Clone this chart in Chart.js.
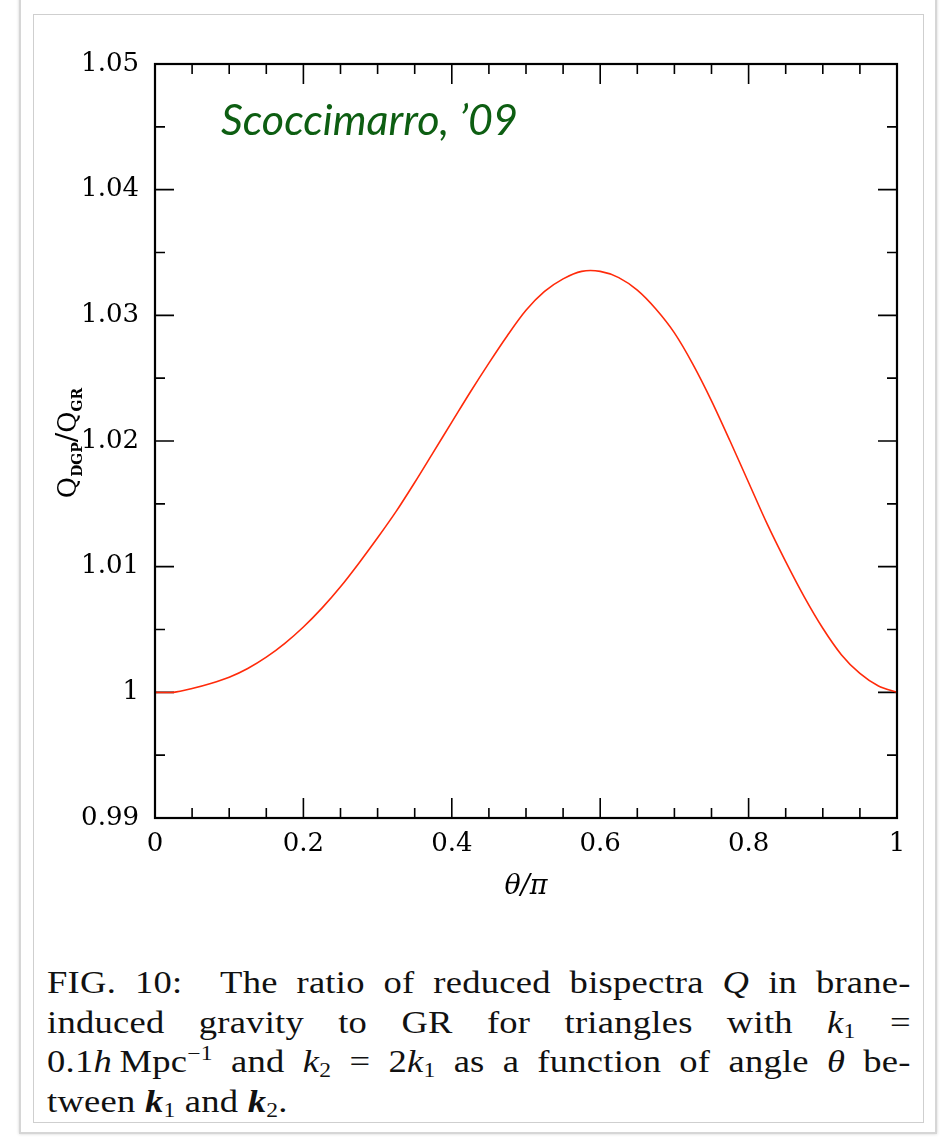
<!DOCTYPE html>
<html>
<head>
<meta charset="utf-8">
<script src="https://cdn.jsdelivr.net/npm/chart.js@4/dist/chart.umd.min.js"></script>
<style>
  html, body { margin: 0; padding: 0; background: #fff; }
  body { width: 946px; height: 1137px; position: relative; overflow: hidden; }
  .outer {
    position: absolute; left: 19px; top: -10px; width: 914px; height: 1140px;
    border: 2px solid #d6d6d6; box-shadow: 0 0 3px rgba(0,0,0,0.18);
  }
  .card {
    position: absolute; left: 33px; top: 14px; width: 889px; height: 1107px;
    border: 1px solid #cfcfcf; background: #fff;
  }
  #chartBox { position: absolute; left: 0; top: 0; width: 946px; height: 930px; }
  .stamp {
    position: absolute; left: 221px; top: 93px;
    font-family: Lato, "Open Sans", sans-serif; font-style: italic;
    font-size: 43px; color: #0d5e12; white-space: nowrap;
  }
  .caption {
    position: absolute; left: 47px; top: 963px; width: 732px;
    transform: scaleX(1.18); transform-origin: 0 0;
    font-family: "Liberation Serif", "DejaVu Serif", serif;
    font-size: 31px; line-height: 39.5px; color: #111; letter-spacing: 0.2px;
  }
  .caption .ln { text-align: justify; text-align-last: justify; white-space: nowrap; }
  .caption .last { text-align: left; text-align-last: left; }
  .caption i { font-style: italic; }
  .caption sub { font-size: 20px; vertical-align: -5px; line-height: 0; }
  .caption sup { font-size: 20px; vertical-align: 12px; line-height: 0; }
</style>
</head>
<body>
<div class="outer"></div>
<div class="card"></div>
<div id="chartBox"><canvas id="ratioChart"></canvas></div>
<div class="stamp">Scoccimarro, ’09</div>
<div class="caption">
  <div class="ln">FIG. 10: &nbsp;The ratio of reduced bispectra <i>Q</i> in brane-</div>
  <div class="ln">induced gravity to GR for triangles with <i>k</i><sub>1</sub> =</div>
  <div class="ln">0.1<i>h</i>&#8201;Mpc<sup>−1</sup> and <i>k</i><sub>2</sub> = 2<i>k</i><sub>1</sub> as a function of angle <i>θ</i> be-</div>
  <div class="ln last">tween <b><i>k</i></b><sub>1</sub> and <b><i>k</i></b><sub>2</sub>.</div>
</div>
<script>
// theta / pi and Q_DGP / Q_GR
const thetaVals = [0, 0.025, 0.05, 0.075, 0.1, 0.125, 0.15, 0.175, 0.2, 0.225,
                   0.25, 0.275, 0.3, 0.325, 0.35, 0.375, 0.4, 0.425, 0.45, 0.475,
                   0.5, 0.525, 0.55, 0.575, 0.6, 0.625, 0.65, 0.675, 0.7, 0.725,
                   0.75, 0.775, 0.8, 0.825, 0.85, 0.875, 0.9, 0.925, 0.95, 0.975, 1];
const ratioVals = [1.0000, 1.0000, 1.0003, 1.0007, 1.0012, 1.0019, 1.0028, 1.0039, 1.0052, 1.0067,
                   1.0084, 1.0103, 1.0123, 1.0144, 1.0167, 1.0191, 1.0215, 1.0239, 1.0262, 1.0284,
                   1.0304, 1.0319, 1.0329, 1.0335, 1.0335, 1.0330, 1.0320, 1.0305, 1.0286, 1.0261,
                   1.0232, 1.0200, 1.0167, 1.0134, 1.0104, 1.0076, 1.0051, 1.0030, 1.0015, 1.0005, 1.0000];

// tick positions
const xMajorTicks = [0, 0.2, 0.4, 0.6, 0.8, 1];
const xMinorTicks = [0.05, 0.1, 0.15, 0.25, 0.3, 0.35, 0.45, 0.5, 0.55, 0.65, 0.7, 0.75, 0.85, 0.9, 0.95];
const yMajorTicks = [0.99, 1, 1.01, 1.02, 1.03, 1.04, 1.05];
const yMinorTicks = [0.995, 1.005, 1.015, 1.025, 1.035, 1.045];

const tickFont = '"DejaVu Serif", "Liberation Serif", serif';

// box + inward ticks on all four sides, plus axis titles
const frameTicks = {
    id: 'frameTicks',
    beforeDatasetsDraw(chart) {
        const { ctx, chartArea: a, scales: { x, y } } = chart;
        ctx.save();
        ctx.strokeStyle = '#000';
        ctx.lineWidth = 1.6;
        ctx.beginPath();
        const xt = (v, len) => {
            const px = x.getPixelForValue(v);
            ctx.moveTo(px, a.bottom); ctx.lineTo(px, a.bottom - len);
            ctx.moveTo(px, a.top); ctx.lineTo(px, a.top + len);
        };
        const yt = (v, len) => {
            const py = y.getPixelForValue(v);
            ctx.moveTo(a.left, py); ctx.lineTo(a.left + len, py);
            ctx.moveTo(a.right, py); ctx.lineTo(a.right - len, py);
        };
        xMajorTicks.forEach(v => xt(v, 20));
        xMinorTicks.forEach(v => xt(v, 10));
        yMajorTicks.forEach(v => yt(v, 19));
        yMinorTicks.forEach(v => yt(v, 10));
        ctx.stroke();
        ctx.restore();
    },
    afterDatasetsDraw(chart) {
        const { ctx, chartArea: a } = chart;
        ctx.save();
        ctx.strokeStyle = '#000';
        ctx.lineWidth = 2.2;
        ctx.strokeRect(a.left, a.top, a.right - a.left, a.bottom - a.top);

        // x title
        ctx.fillStyle = '#000';
        ctx.font = 'italic 27px ' + tickFont;
        ctx.textAlign = 'center';
        ctx.textBaseline = 'alphabetic';
        ctx.fillText('θ/π', (a.left + a.right) / 2, 894);

        // y title Q_DGP / Q_GR, rotated
        ctx.translate(76, 443);
        ctx.rotate(-Math.PI / 2);
        const parts = [
            { t: 'Q', f: '26px ' + tickFont, dy: 0 },
            { t: 'DGP', f: 'bold 14px ' + tickFont, dy: 6 },
            { t: '/', f: '28px ' + tickFont, dy: 0 },
            { t: 'Q', f: '26px ' + tickFont, dy: 0 },
            { t: 'GR', f: 'bold 14px ' + tickFont, dy: 6 }
        ];
        let total = 0;
        parts.forEach(p => { ctx.font = p.f; p.w = ctx.measureText(p.t).width; total += p.w; });
        let cx = -total / 2;
        ctx.textAlign = 'left';
        parts.forEach(p => { ctx.font = p.f; ctx.fillText(p.t, cx, p.dy); cx += p.w; });
        ctx.restore();
    }
};

const fmt = v => String(Number(Number(v).toFixed(3)));

new Chart(document.getElementById('ratioChart'), {
    type: 'line',
    data: {
        datasets: [{
            data: thetaVals.map((t, i) => ({ x: t, y: ratioVals[i] })),
            borderColor: '#ff2a0a',
            borderWidth: 1.6,
            pointRadius: 0,
            fill: false,
            tension: 0.3
        }]
    },
    options: {
        responsive: true,
        maintainAspectRatio: false,
        animation: false,
        layout: { padding: { top: 64, right: 49, left: 0, bottom: 0 } },
        plugins: { legend: { display: false }, tooltip: { enabled: false } },
        scales: {
            x: {
                type: 'linear',
                min: 0, max: 1,
                afterBuildTicks: s => { s.ticks = xMajorTicks.map(v => ({ value: v })); },
                afterFit: s => { s.height = 112; },
                grid: { display: false, drawTicks: false },
                border: { display: false },
                ticks: {
                    padding: 11,
                    maxRotation: 0,
                    color: '#000',
                    font: { family: tickFont, size: 26 },
                    callback: v => fmt(v)
                }
            },
            y: {
                type: 'linear',
                min: 0.99, max: 1.05,
                afterBuildTicks: s => { s.ticks = yMajorTicks.map(v => ({ value: v })); },
                afterFit: s => { s.width = 155; },
                grid: { display: false, drawTicks: false },
                border: { display: false },
                ticks: {
                    padding: 16,
                    color: '#000',
                    font: { family: tickFont, size: 26 },
                    callback: v => fmt(v)
                }
            }
        }
    },
    plugins: [frameTicks]
});
</script>
</body>
</html>
